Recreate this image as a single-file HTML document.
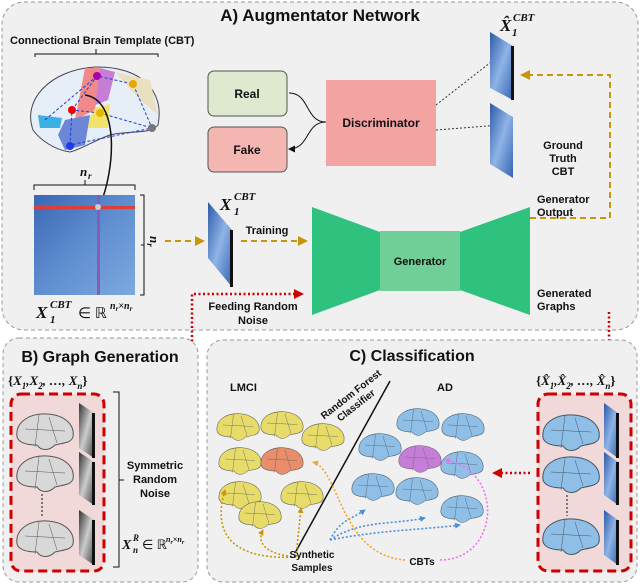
<!DOCTYPE html>
<html><head><meta charset="utf-8"><style>
body{margin:0;background:#fff}
svg{display:block;font-family:"Liberation Sans",sans-serif}
.t{font-weight:bold;fill:#111}
.m{font-family:"Liberation Serif",serif;font-weight:bold;font-style:italic;fill:#111}
</style></head><body>
<svg width="640" height="585" viewBox="0 0 640 585" xmlns="http://www.w3.org/2000/svg">
<defs>
<linearGradient id="bl" x1="0" y1="0" x2="1" y2="1"><stop offset="0" stop-color="#2c5aa8"/><stop offset=".5" stop-color="#8fb4e6"/><stop offset="1" stop-color="#3464b0"/></linearGradient>
<linearGradient id="mat" x1="0" y1="0" x2="1" y2="1"><stop offset="0" stop-color="#3a67b5"/><stop offset=".5" stop-color="#5f8ed0"/><stop offset="1" stop-color="#7ea9de"/></linearGradient>
<linearGradient id="gr" x1="0" y1="0" x2="1" y2="1"><stop offset="0" stop-color="#333"/><stop offset=".5" stop-color="#ccc"/><stop offset="1" stop-color="#444"/></linearGradient>
<marker id="ao" markerUnits="userSpaceOnUse" markerWidth="10" markerHeight="10" refX="8" refY="5" orient="auto"><path d="M0,0L10,5L0,10z" fill="#c8960c"/></marker>
<marker id="ar" markerUnits="userSpaceOnUse" markerWidth="10" markerHeight="10" refX="8" refY="5" orient="auto"><path d="M0,0L10,5L0,10z" fill="#c00"/></marker>
<marker id="ak" markerUnits="userSpaceOnUse" markerWidth="7" markerHeight="7" refX="6" refY="3.5" orient="auto"><path d="M0,0L7,3.5L0,7z" fill="#111"/></marker>
<marker id="as" markerUnits="userSpaceOnUse" markerWidth="6" markerHeight="6" refX="5" refY="3" orient="auto"><path d="M0,0L6,3L0,6z" fill="context-stroke"/></marker>
<g id="brain"><path d="M-28,4 C-30,-12 -14,-20 2,-19 C20,-18 30,-8 28,4 C26,10 18,10 10,12 C4,18 -4,18 -8,12 C-18,12 -26,10 -28,4z"/><path d="M-6,-18 L-10,14 M-20,-4 L20,-2 M4,-16 L12,10" fill="none" stroke-width=".5"/></g>
</defs>
<!-- Panel A -->
<rect x="2" y="2" width="636" height="328" rx="22" fill="#f0f0f0" stroke="#999" stroke-dasharray="4,3"/>
<text x="320" y="21" class="t" font-size="17" text-anchor="middle">A) Augmentator Network</text>
<text x="10" y="44" class="t" font-size="11">Connectional Brain Template (CBT)</text>
<path d="M35,57v-3h123v3M96,54v-5" fill="none" stroke="#111"/>
<path d="M33,130 C22,100 50,70 95,67 C140,66 165,90 158,125 C150,135 130,130 110,135 C95,140 80,150 70,152 C55,150 40,140 33,130z" fill="#e6eef8" stroke="#445" stroke-width="1"/>
<path d="M85,68 L100,68 L95,110 L75,120z" fill="#f08a8a"/>
<path d="M100,68 L115,72 L108,100 L95,105z" fill="#c77cd6"/>
<path d="M115,72 L150,80 L158,115 L140,100z" fill="#e9e0c0"/>
<path d="M95,108 L110,104 L108,128 L85,128z" fill="#f1e36a"/>
<path d="M65,120 L90,115 L85,145 L65,150 L58,135z" fill="#6c86d8"/>
<path d="M38,115 L62,118 L60,128 L40,128z" fill="#3ab0e6"/>
<g fill="none" stroke="#1b3fd0" stroke-dasharray="3,2" stroke-width="1"><path d="M72,110 L97,76 L133,84 L152,128 L70,145 L72,110 L100,113"/><path d="M45,120 L97,76 M100,113 L152,128"/></g>
<circle cx="72" cy="110" r="4" fill="#e00"/><circle cx="97" cy="76" r="4" fill="#a0a"/><circle cx="133" cy="84" r="4" fill="#e8a800"/><circle cx="100" cy="113" r="4" fill="#e8b800"/><circle cx="152" cy="128" r="4" fill="#777"/><circle cx="70" cy="146" r="4" fill="#1c3ee0"/>
<path d="M85,95 C120,100 115,170 100,205" fill="none" stroke="#111" stroke-width="1.5" marker-end="url(#ak)"/>
<text x="80" y="176" class="m" font-size="13">n</text><text x="88" y="179" class="m" font-size="9">r</text>
<path d="M34,190v-5h101v5M85,185v-5" fill="none" stroke="#111"/>
<rect x="34" y="195" width="101" height="100" fill="url(#mat)"/>
<rect x="34" y="206" width="101" height="3" fill="#d9403a"/>
<rect x="97" y="195" width="3" height="100" fill="#8a5ab8"/>
<circle cx="98" cy="207" r="3" fill="#ccd"/>
<path d="M140,195h4v100h-4M144,245h-3" fill="none" stroke="#111"/>
<text x="150" y="236" class="m" font-size="13" transform="rotate(90 150 236)">n<tspan font-size="9" dy="3">r</tspan></text>
<text x="36" y="318" class="m" font-size="17">X</text><text x="50" y="308" class="m" font-size="11">CBT</text><text x="50" y="323" class="m" font-size="11">1</text>
<text x="78" y="318" font-family="Liberation Serif,serif" font-size="15" fill="#111">∈  ℝ</text>
<text x="110" y="309" class="m" font-size="10">n<tspan font-size="7" dy="2">r</tspan><tspan dy="-2">×n</tspan><tspan font-size="7" dy="2">r</tspan></text>
<!-- Real/Fake/Disc -->
<rect x="208" y="71" width="79" height="45" rx="6" fill="#dfe9cf" stroke="#555"/>
<text x="247" y="98" class="t" font-size="12" text-anchor="middle">Real</text>
<rect x="208" y="127" width="79" height="45" rx="6" fill="#f4b6b1" stroke="#555"/>
<text x="247" y="154" class="t" font-size="12" text-anchor="middle">Fake</text>
<path d="M326,122 C305,122 310,93 289,93M326,122 C305,122 310,149 289,149" fill="none" stroke="#111" marker-end="url(#ak)"/>
<rect x="326" y="80" width="110" height="86" fill="#f4a3a3"/>
<text x="381" y="127" class="t" font-size="12" text-anchor="middle">Discriminator</text>
<path d="M436,105 L500,55 M436,130 L500,125" stroke="#333" stroke-dasharray="2,2"/>
<path d="M490,32 L513,46 L513,100 L490,88z" fill="url(#bl)"/><rect x="511" y="46" width="3" height="54" fill="#111"/>
<path d="M490,103 L513,117 L513,178 L490,164z" fill="url(#bl)"/>
<text x="500" y="31" class="m" font-size="17">X̂</text><text x="513" y="21" class="m" font-size="11">CBT</text><text x="512" y="36" class="m" font-size="11">1</text>
<text x="563" y="149" class="t" font-size="11" text-anchor="middle">Ground</text>
<text x="563" y="162" class="t" font-size="11" text-anchor="middle">Truth</text>
<text x="563" y="175" class="t" font-size="11" text-anchor="middle">CBT</text>
<path d="M530,218 H610 V75 H522" fill="none" stroke="#c8960c" stroke-width="2" stroke-dasharray="6,4" marker-end="url(#ao)"/>
<text x="537" y="203" class="t" font-size="11">Generator</text>
<text x="537" y="216" class="t" font-size="11">Output</text>
<text x="537" y="297" class="t" font-size="11">Generated</text>
<text x="537" y="310" class="t" font-size="11">Graphs</text>
<path d="M208,202 L232,230 L232,287 L208,258z" fill="url(#bl)"/><rect x="230" y="230" width="3" height="57" fill="#111"/>
<text x="220" y="210" class="m" font-size="17">X</text><text x="234" y="200" class="m" font-size="11">CBT</text><text x="234" y="215" class="m" font-size="11">1</text>
<path d="M165,241 H203" stroke="#c8960c" stroke-width="2" stroke-dasharray="6,4" marker-end="url(#ao)"/>
<path d="M241,241 H306" stroke="#c8960c" stroke-width="2" stroke-dasharray="6,4" marker-end="url(#ao)"/>
<text x="267" y="234" class="t" font-size="11" text-anchor="middle">Training</text>
<path d="M312,207 L380,232 L380,290 L312,315z" fill="#2ec27e"/>
<path d="M530,207 L460,232 L460,290 L530,315z" fill="#2ec27e"/>
<rect x="380" y="231" width="80" height="60" fill="#6fcf97"/>
<text x="420" y="265" class="t" font-size="11" text-anchor="middle">Generator</text>
<text x="253" y="310" class="t" font-size="11" text-anchor="middle">Feeding Random</text>
<text x="253" y="324" class="t" font-size="11" text-anchor="middle">Noise</text>
<path d="M115,422 H192 V294 H302" fill="none" stroke="#c00" stroke-width="2.5" stroke-dasharray="2,2.5" marker-end="url(#ar)"/>
<path d="M609,312 V364" fill="none" stroke="#c00" stroke-width="2.5" stroke-dasharray="2,2.5" marker-end="url(#ar)"/>
<!-- Panel B -->
<rect x="3" y="338" width="195" height="244" rx="16" fill="#f0f0f0" stroke="#999" stroke-dasharray="4,3"/>
<text x="100" y="362" class="t" font-size="16" text-anchor="middle">B) Graph Generation</text>
<text x="8" y="385" class="m" font-size="13"><tspan font-style="normal">{</tspan>X<tspan font-size="9" dy="4">1</tspan><tspan dy="-4">,X</tspan><tspan font-size="9" dy="4">2</tspan><tspan dy="-4">, …, X</tspan><tspan font-size="9" dy="4">n</tspan><tspan dy="-4" font-style="normal">}</tspan></text>
<rect x="11" y="394" width="93" height="177" rx="10" fill="#f0d9d8" stroke="#c00" stroke-width="3" stroke-dasharray="9,5"/>
<g fill="#d8d8d8" stroke="#555">
<use href="#brain" transform="translate(45,433)"/>
<use href="#brain" transform="translate(45,475)"/>
<use href="#brain" transform="translate(45,540)"/>
</g>
<path d="M42,494 V518" stroke="#111" stroke-dasharray="2,2"/>
<path d="M79,403 L94,413 L94,458 L79,448z" fill="url(#gr)"/><rect x="92" y="413" width="3" height="45" fill="#111"/>
<path d="M79,452 L94,462 L94,505 L79,495z" fill="url(#gr)"/><rect x="92" y="462" width="3" height="43" fill="#111"/>
<path d="M79,510 L94,520 L94,565 L79,555z" fill="url(#gr)"/><rect x="92" y="520" width="3" height="45" fill="#111"/>
<path d="M113,392h6v175h-6M119,480h5" fill="none" stroke="#111"/>
<text x="155" y="469" class="t" font-size="11" text-anchor="middle">Symmetric</text>
<text x="155" y="483" class="t" font-size="11" text-anchor="middle">Random</text>
<text x="155" y="497" class="t" font-size="11" text-anchor="middle">Noise</text>
<text x="122" y="549" class="m" font-size="14">X</text><text x="133" y="541" class="m" font-size="9">R</text><text x="133" y="553" class="m" font-size="9">n</text>
<text x="142" y="549" font-family="Liberation Serif,serif" font-size="13" fill="#111">∈ ℝ</text>
<text x="166" y="542" class="m" font-size="8">n<tspan font-size="6" dy="2">r</tspan><tspan dy="-2">×n</tspan><tspan font-size="6" dy="2">r</tspan></text>
<!-- Panel C -->
<rect x="207" y="340" width="430" height="242" rx="16" fill="#f0f0f0" stroke="#999" stroke-dasharray="4,3"/>
<text x="412" y="361" class="t" font-size="16" text-anchor="middle">C) Classification</text>
<text x="230" y="391" class="t" font-size="11">LMCI</text>
<text x="437" y="391" class="t" font-size="11">AD</text>
<path d="M295,553 L390,381" stroke="#111" stroke-width="1.5"/>
<text x="353" y="397" class="t" font-size="10" text-anchor="middle" transform="rotate(-38 353 397)">Random Forest</text>
<text x="358" y="408" class="t" font-size="10" text-anchor="middle" transform="rotate(-38 358 408)">Classifier</text>
<g fill="#e7dc6a" stroke="#555" stroke-width=".7">
<use href="#brain" transform="translate(238,428) scale(.75)"/>
<use href="#brain" transform="translate(282,426) scale(.75)"/>
<use href="#brain" transform="translate(323,438) scale(.75)"/>
<use href="#brain" transform="translate(240,462) scale(.75)"/>
<use href="#brain" transform="translate(240,496) scale(.75)"/>
<use href="#brain" transform="translate(302,496) scale(.75)"/>
<use href="#brain" transform="translate(260,516) scale(.75)"/>
</g>
<use href="#brain" transform="translate(282,462) scale(.75)" fill="#e98e6a" stroke="#555" stroke-width=".7"/>
<g fill="#8fbfe6" stroke="#456" stroke-width=".7">
<use href="#brain" transform="translate(418,423) scale(.75)"/>
<use href="#brain" transform="translate(463,428) scale(.75)"/>
<use href="#brain" transform="translate(380,448) scale(.75)"/>
<use href="#brain" transform="translate(462,466) scale(.75)"/>
<use href="#brain" transform="translate(373,488) scale(.75)"/>
<use href="#brain" transform="translate(417,492) scale(.75)"/>
<use href="#brain" transform="translate(462,510) scale(.75)"/>
</g>
<use href="#brain" transform="translate(420,460) scale(.75)" fill="#c47ed8" stroke="#757" stroke-width=".7"/>
<g fill="none" stroke-width="1.6" stroke-dasharray="2,2">
<path d="M296,557 C240,560 210,540 225,490" stroke="#c8960c" marker-end="url(#as)"/>
<path d="M296,557 C270,555 255,545 263,530" stroke="#c8960c" marker-end="url(#as)"/>
<path d="M296,557 L301,508" stroke="#c8960c" marker-end="url(#as)"/>
<path d="M330,540 C340,520 350,520 365,510" stroke="#4a90d9" marker-end="url(#as)"/>
<path d="M330,540 C360,520 390,525 425,518" stroke="#4a90d9" marker-end="url(#as)"/>
<path d="M330,540 C380,530 420,530 460,525" stroke="#4a90d9" marker-end="url(#as)"/>
<path d="M405,560 C340,555 340,470 313,462" stroke="#f5a623" marker-end="url(#as)"/>
<path d="M440,560 C500,560 505,470 445,460" stroke="#f06ef0" marker-end="url(#as)"/>
</g>
<text x="312" y="558" class="t" font-size="10" text-anchor="middle">Synthetic</text>
<text x="312" y="571" class="t" font-size="10" text-anchor="middle">Samples</text>
<text x="422" y="565" class="t" font-size="10" text-anchor="middle">CBTs</text>
<path d="M530,473 H494" stroke="#c00" stroke-width="2.5" stroke-dasharray="2,2.5" marker-end="url(#ar)"/>
<text x="536" y="385" class="m" font-size="13"><tspan font-style="normal">{</tspan>X̂<tspan font-size="9" dy="4">1</tspan><tspan dy="-4">,X̂</tspan><tspan font-size="9" dy="4">2</tspan><tspan dy="-4">, …, X̂</tspan><tspan font-size="9" dy="4">n</tspan><tspan dy="-4" font-style="normal">}</tspan></text>
<rect x="538" y="394" width="93" height="177" rx="10" fill="#f0d9d8" stroke="#c00" stroke-width="3" stroke-dasharray="9,5"/>
<g fill="#8fbfe6" stroke="#456">
<use href="#brain" transform="translate(571,434)"/>
<use href="#brain" transform="translate(571,476)"/>
<use href="#brain" transform="translate(571,538)"/>
</g>
<path d="M567,495 V516" stroke="#111" stroke-dasharray="2,2"/>
<path d="M604,403 L618,413 L618,458 L604,448z" fill="url(#bl)"/><rect x="616" y="413" width="3" height="45" fill="#111"/>
<path d="M604,452 L618,462 L618,505 L604,495z" fill="url(#bl)"/><rect x="616" y="462" width="3" height="43" fill="#111"/>
<path d="M604,510 L618,520 L618,565 L604,555z" fill="url(#bl)"/><rect x="616" y="520" width="3" height="45" fill="#111"/>
</svg>
</body></html>
